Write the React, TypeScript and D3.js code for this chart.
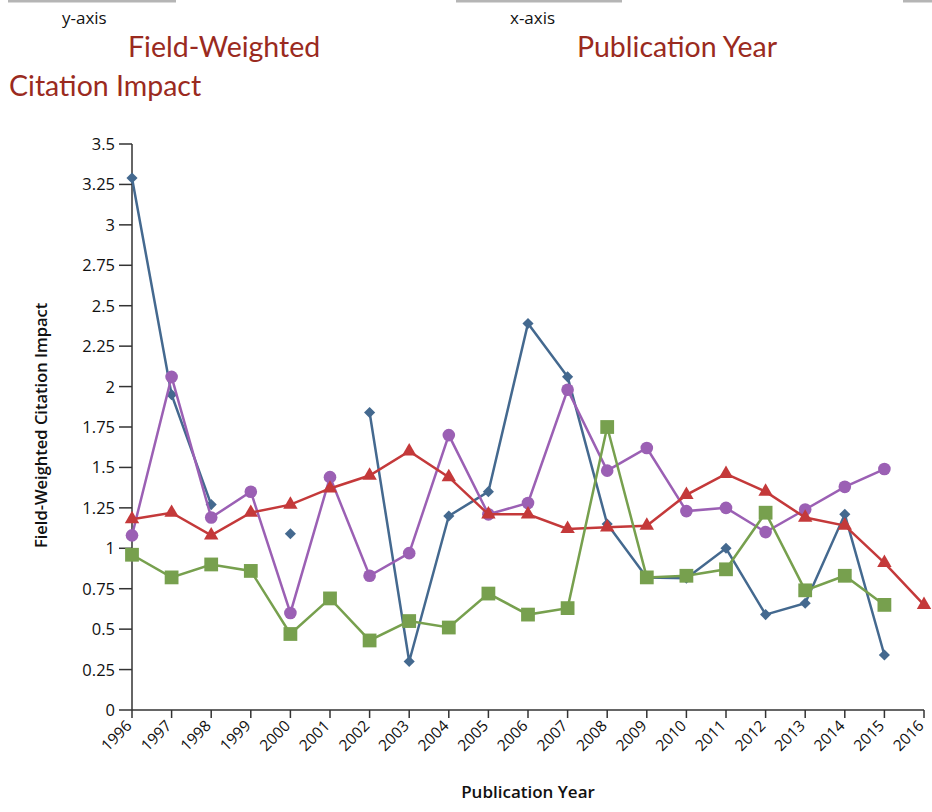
import React from "react";
import * as d3 from "d3";

const years = [1996,1997,1998,1999,2000,2001,2002,2003,2004,2005,2006,2007,2008,2009,2010,2011,2012,2013,2014,2015,2016];
const blueValues: (number|null)[] = [3.29,1.95,1.27,null,1.09,null,1.84,0.30,1.20,1.35,2.39,2.06,1.15,0.82,0.815,1.00,0.59,0.66,1.21,0.34,null];
const purpleValues: (number|null)[] = [1.08,2.06,1.19,1.35,0.60,1.44,0.83,0.97,1.70,1.21,1.28,1.98,1.48,1.62,1.23,1.25,1.10,1.24,1.38,1.49,null];
const redValues: (number|null)[] = [1.18,1.22,1.08,1.22,1.27,1.37,1.45,1.60,1.44,1.21,1.21,1.12,1.13,1.14,1.33,1.46,1.35,1.19,1.14,0.91,0.65];
const greenValues: (number|null)[] = [0.96,0.82,0.90,0.86,0.47,0.69,0.43,0.55,0.51,0.72,0.59,0.63,1.75,0.82,0.83,0.87,1.22,0.74,0.83,0.65,null];
const yTicks = [0,0.25,0.5,0.75,1,1.25,1.5,1.75,2,2.25,2.5,2.75,3,3.25,3.5];

const series = [
  { name: "blue", values: blueValues, color: "#44698f", symbol: d3.symbolSquare, size: 62, rotate: 45 },
  { name: "purple", values: purpleValues, color: "#9b60b4", symbol: d3.symbolCircle, size: 125, rotate: 0 },
  { name: "red", values: redValues, color: "#c4393a", symbol: d3.symbolTriangle, size: 90, rotate: 0 },
  { name: "green", values: greenValues, color: "#77a04e", symbol: d3.symbolSquare, size: 190, rotate: 0 },
];

const FONT = "'Open Sans', 'Noto Sans', sans-serif";

export default function App() {
  const x = d3.scaleLinear().domain([1996, 2016]).range([132, 924]);
  const y = d3.scaleLinear().domain([0, 3.5]).range([710, 144]);

  return (
    <div style={{ position: "absolute", left: 0, top: 0 }}>
      <svg width={932} height={812} style={{ display: "block", fontFamily: FONT }}>
        {/* top decorations */}
        <rect x={8} y={0} width={168} height={2.5} fill="#b5b5b5" />
        <rect x={456} y={0} width={166} height={2.5} fill="#b5b5b5" />
        <rect x={903} y={0} width={29} height={2.5} fill="#b5b5b5" />
        <text x={62} y={24} fontSize={17} fill="#111">y-axis</text>
        <text x={510} y={24} fontSize={17} fill="#111">x-axis</text>
        <text x={128} y={57} fontSize={28.5} fill="#9a2a20" fontFamily="Lato, sans-serif">Field-Weighted</text>
        <text x={9} y={96} fontSize={28.5} fill="#9a2a20" fontFamily="Lato, sans-serif">Citation Impact</text>
        <text x={577} y={57} fontSize={28.5} fill="#9a2a20" fontFamily="Lato, sans-serif">Publication Year</text>

        {/* y axis */}
        <line x1={132} x2={132} y1={y(3.5)} y2={710} stroke="#333" strokeWidth={1.5} />
        {yTicks.map((t) => (
          <g key={t}>
            <line x1={119} x2={132} y1={y(t)} y2={y(t)} stroke="#333" strokeWidth={1.5} />
            <text x={115} y={y(t)} dy="0.36em" textAnchor="end" fontSize={16.5} fill="#111">{String(t)}</text>
          </g>
        ))}
        {/* x axis */}
        <line x1={132} x2={924} y1={710} y2={710} stroke="#333" strokeWidth={1.5} />
        {years.map((yr) => (
          <g key={yr} transform={`translate(${x(yr)},710)`}>
            <line y1={0} y2={8} stroke="#333" strokeWidth={1.5} />
            <text transform="translate(-3,13) rotate(-45)" textAnchor="end" dy="0.35em" fontSize={15.5} fill="#111">{yr}</text>
          </g>
        ))}
        <text x={528} y={798} textAnchor="middle" fontSize={17} fontWeight={600} fill="#111">Publication Year</text>
        <text transform={`translate(47,${y(1.76)}) rotate(-90)`} textAnchor="middle" fontSize={16.5} fontWeight={600} fill="#111">Field-Weighted Citation Impact</text>

        {/* series */}
        {series.map((s) => {
          const pts = years.map((yr, i) => ({ yr, v: s.values[i] }));
          const line = d3.line<{ yr: number; v: number | null }>()
            .defined((d) => d.v !== null)
            .x((d) => x(d.yr))
            .y((d) => y(d.v as number));
          const sym = d3.symbol().type(s.symbol).size(s.size)();
          return (
            <g key={s.name}>
              <path d={line(pts) || ""} fill="none" stroke={s.color} strokeWidth={2.5} />
              {pts.filter((p) => p.v !== null).map((p) => (
                <path key={p.yr} d={sym || ""} transform={`translate(${x(p.yr)},${y(p.v as number)}) rotate(${s.rotate})`} fill={s.color} />
              ))}
            </g>
          );
        })}
      </svg>
    </div>
  );
}
